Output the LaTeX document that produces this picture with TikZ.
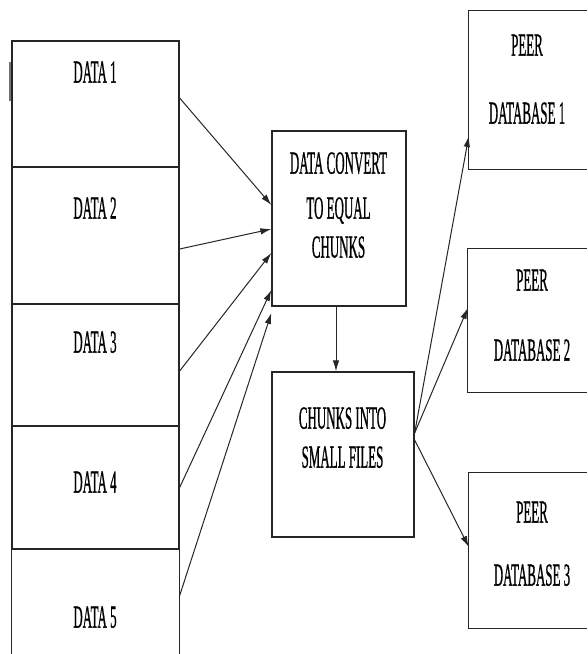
\documentclass[tikz,border=0pt]{standalone}
\usepackage{fontspec}
\setmainfont{Liberation Serif}
\newfontfamily\boxfont{Liberation Serif}[FakeBold=1.2]
\usetikzlibrary{arrows.meta}
\newcommand\sqz[1]{\scalebox{0.405}[1]{#1}}
\tikzset{
  box/.style={draw=black!85, line width=1.3pt, rectangle, inner sep=0pt},
  openbox/.style={rectangle, inner sep=0pt},
  edgeline/.style={draw=black!85, line width=1.3pt},
  txt/.style={font=\boxfont\fontsize{32}{38}\selectfont, inner sep=0pt, anchor=base},
  link/.style={draw=black!85, line width=1pt, -{Latex[length=11pt,width=6.5pt]}}
}
\begin{document}
\begin{tikzpicture}[x=1pt, y=-1pt]
  \useasboundingbox[fill=white] (0,0) rectangle (587,654);

  % stacked input blocks
  \node[box, minimum width=167pt, minimum height=126pt] (d1) at (95.5,104) {};
  \node[box, minimum width=167pt, minimum height=137pt] (d2) at (95.5,235.5) {};
  \node[box, minimum width=167pt, minimum height=122pt] (d3) at (95.5,365) {};
  \node[box, minimum width=167pt, minimum height=123pt] (d4) at (95.5,487.5) {};
  \node[openbox, minimum width=167pt, minimum height=105pt] (d5) at (95.5,601.5) {};
  \draw[edgeline] (d5.south west) -- (d5.north west) -- (d5.north east) -- (d5.south east);
  \coordinate (tickA) at (10,62);
  \coordinate (tickB) at (10,101);
  \draw[black!55, line width=1.4pt] (tickA) -- (tickB);

  \node[txt] (t1) at (95,82.6) {\sqz{DATA 1}};
  \node[txt] (t2) at (95,218.6) {\sqz{DATA 2}};
  \node[txt] (t3) at (95,352.6) {\sqz{DATA 3}};
  \node[txt] (t4) at (95,492.6) {\sqz{DATA 4}};
  \node[txt] (t5) at (95,627.6) {\sqz{DATA 5}};

  % processing blocks
  \node[box, minimum width=134pt, minimum height=175pt] (c) at (339,218.5) {};
  \node[txt] (c1) at (338.5,173.6) {\sqz{DATA CONVERT}};
  \node[txt] (c2) at (338.5,218.6) {\sqz{TO EQUAL}};
  \node[txt] (c3) at (338.5,257.6) {\sqz{CHUNKS}};

  \node[box, minimum width=142pt, minimum height=165pt] (s) at (343,454.5) {};
  \node[txt] (s1) at (342.5,428.6) {\sqz{CHUNKS INTO}};
  \node[txt] (s2) at (342.5,467.6) {\sqz{SMALL FILES}};

  % peer databases (right side runs off the page)
  \node[openbox, minimum width=118pt, minimum height=158pt] (p1) at (528,90) {};
  \node[openbox, minimum width=119pt, minimum height=143pt] (p2) at (527.5,320.5) {};
  \node[openbox, minimum width=118pt, minimum height=155pt] (p3) at (528,550.5) {};
  \foreach \p in {p1,p2,p3}
    \draw[edgeline] (\p.north east) -- (\p.north west) -- (\p.south west) -- (\p.south east);

  \node[txt] (p1a) at (527,55.6) {\sqz{PEER}};
  \node[txt] (p1b) at (527,123.6) {\sqz{DATABASE 1}};
  \node[txt] (p2a) at (532,290.6) {\sqz{PEER}};
  \node[txt] (p2b) at (532,360.6) {\sqz{DATABASE 2}};
  \node[txt] (p3a) at (532,522.6) {\sqz{PEER}};
  \node[txt] (p3b) at (532,585.6) {\sqz{DATABASE 3}};

  % connectors
  \draw[link] ([yshift=6pt]d1.east) -- ([yshift=13.5pt]c.west);
  \draw[link] ([yshift=-13.5pt]d2.east) -- ([yshift=-10.5pt]c.west);
  \draw[link] ([yshift=-6pt]d3.east) -- ([yshift=-34.5pt]c.west);
  \draw[link] (d4.east) -- ([yshift=-71.5pt]c.west);
  \draw[link] ([yshift=4.5pt]d5.east) -- ([yshift=-94.5pt]c.west);

  \draw[link] ([xshift=-3pt]c.south) -- ([xshift=-7pt]s.north);

  \draw[link] ([yshift=21.5pt]s.east) -- ([yshift=-46pt]p1.west);
  \draw[link] ([yshift=21.5pt]s.east) -- ([yshift=12.5pt]p2.west);
  \draw[link] ([yshift=14.5pt]s.east) -- ([yshift=3.5pt]p3.west);
\end{tikzpicture}
\end{document}
